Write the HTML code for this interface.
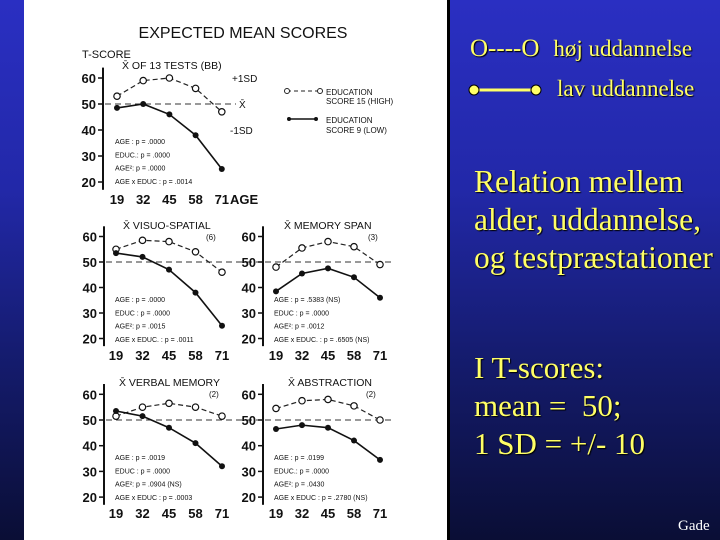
<!DOCTYPE html>
<html><head><meta charset="utf-8">
<style>
body{margin:0;width:720px;height:540px;overflow:hidden;background:linear-gradient(#2a2fc2 0%,#2228a8 35%,#151c70 65%,#0a0e35 100%);font-family:"Liberation Sans",sans-serif;position:relative}
#panel{position:absolute;left:24px;top:0;width:423px;height:540px;background:#fff;border-right:3px solid #000}
.y{position:absolute;color:#ffff66;font-family:"Liberation Serif",serif;text-shadow:1px 1px 1px #000;white-space:nowrap}
svg text{font-family:"Liberation Sans",sans-serif;fill:#111}
</style></head><body>
<div id="panel"></div>
<svg id="chart" width="720" height="540" style="position:absolute;left:0;top:0"></svg>
<div class="y" style="left:470px;top:35px;font-size:25px">O----O<span style="font-size:23px;margin-left:14px">høj uddannelse</span></div>
<svg style="position:absolute;left:466px;top:82px" width="80" height="16"><line x1="8" y1="8" x2="70" y2="8" stroke="#ffff66" stroke-width="3"/><circle cx="8" cy="8" r="5" fill="#ffff66" stroke="#000"/><circle cx="70" cy="8" r="5" fill="#ffff66" stroke="#000"/></svg>
<div class="y" style="left:557px;top:76px;font-size:23px">lav uddannelse</div>
<div class="y" style="left:474px;top:163px;font-size:31.5px;line-height:38px">Relation mellem<br>alder, uddannelse,<br>og testpræstationer</div>
<div class="y" style="left:474px;top:349px;font-size:31px;line-height:38px">I T-scores:<br>mean =&nbsp; 50;<br>1 SD = +/- 10</div>
<div style="position:absolute;left:678px;top:518px;color:#fff;font-family:'Liberation Serif',serif;font-size:15px">Gade</div>
<script>
const ages=["19","32","45","58","71"];
const yTicks=[60,50,40,30,20];
const mainHigh=[53,59,60,56,47];
const mainLow=[48.5,50,46,38,25];
const visHigh=[55,58.5,58,54,46];
const visLow=[53.5,52,47,38,25];
const memHigh=[48,55.5,58,56,49];
const memLow=[38.5,45.5,47.5,44,36];
const verHigh=[51.5,55,56.5,55,51.5];
const verLow=[53.5,51.5,47,41,32];
const absHigh=[54.5,57.5,58,55.5,50];
const absLow=[46.5,48,47,42,34.5];
const mainStats=["AGE : p = .0000","EDUC.: p = .0000","AGE²: p = .0000","AGE x EDUC : p = .0014"];
const visStats=["AGE : p = .0000","EDUC : p = .0000","AGE²: p = .0015","AGE x EDUC. : p = .0011"];
const memStats=["AGE : p = .5383 (NS)","EDUC : p = .0000","AGE²: p = .0012","AGE x EDUC. : p = .6505 (NS)"];
const verStats=["AGE : p = .0019","EDUC : p = .0000","AGE²: p = .0904 (NS)","AGE x EDUC : p = .0003"];
const absStats=["AGE : p = .0199","EDUC.: p = .0000","AGE²: p = .0430","AGE x EDUC : p = .2780 (NS)"];
const NS="http://www.w3.org/2000/svg";
const svg=document.getElementById('chart');
function mk(tag,attrs,parent){const e=document.createElementNS(NS,tag);for(const k in attrs)e.setAttribute(k,attrs[k]);(parent||svg).appendChild(e);return e;}
function txt(s,x,y,size,parent,anchor,weight){const t=mk('text',{x:x,y:y,'font-size':size,'text-anchor':anchor||'start','font-weight':weight||'normal'},parent);t.textContent=s;return t;}
function panel(name,o,high,low,stats){
  const g=mk('g',{});
  
  
  const yS=v=>o.y50-(v-50)*o.py;
  const xS=i=>o.x0+i*o.dx;
  const ax=mk('line',{x1:o.ax,y1:yS(64),x2:o.ax,y2:yS(17),stroke:'#111','stroke-width':2},g);
  
  
  yTicks.forEach(v=>{mk('line',{x1:o.ax-5,y1:yS(v),x2:o.ax,y2:yS(v),stroke:'#111','stroke-width':1.5},g);
    const t=txt(String(v),o.ax-7,yS(v)+5,13,g,'end','bold');
    
    });
  ages.forEach((a,i)=>{const t=txt(a,xS(i),o.xl,13,g,'middle','bold');
    
    });
  mk('line',{x1:o.ax+2,y1:yS(50),x2:o.refEnd,y2:yS(50),stroke:'#333','stroke-width':1,'stroke-dasharray':'6,4'},g);
  const ph=high.map((v,i)=>xS(i)+','+yS(v)).join(' ');
  const lh=mk('polyline',{points:ph,fill:'none',stroke:'#222','stroke-width':1.2,'stroke-dasharray':'5,3'},g);
  
  
  const pl=low.map((v,i)=>xS(i)+','+yS(v)).join(' ');
  const ll=mk('polyline',{points:pl,fill:'none',stroke:'#111','stroke-width':1.6},g);
  
  
  high.forEach((v,i)=>{const c=mk('circle',{cx:xS(i),cy:yS(v),r:3.2,fill:'#fff',stroke:'#111','stroke-width':1.2},g);
    
    });
  low.forEach((v,i)=>{const c=mk('circle',{cx:xS(i),cy:yS(v),r:3,fill:'#111'},g);
    
    });
  stats.forEach((s,i)=>{const t=txt(s,o.sx,o.sy+i*o.sdy,7,g);
    
    });
  const tt=txt(o.title,o.tx,o.ty,10.5,g,'start');
  
  
  if(o.n){const n=txt(o.n,o.nx,o.ty+11,8,g);}
  return {g,yS,xS};
}
const m=panel('main-panel',{ax:103,y50:104,py:2.6,x0:117,dx:26.2,xl:204,refEnd:236,sx:115,sy:144,sdy:13.3,title:'X̄ OF 13 TESTS (BB)',tx:122,ty:69},mainHigh,mainLow,mainStats);
const tm=txt('EXPECTED  MEAN  SCORES',243,38,16,svg,'middle');


const ts=txt('T-SCORE',82,58,11,svg);


const ag=txt('AGE',230,204,13,svg,'start','bold');


[['+1SD',232,82],['X̄',239,108],['-1SD',230,134]].forEach(a=>{const t=txt(a[0],a[1],a[2],10,svg);});
const lg=mk('g',{});


mk('line',{x1:287,y1:91,x2:320,y2:91,stroke:'#222','stroke-dasharray':'4,3'},lg);
mk('circle',{cx:287,cy:91,r:2.5,fill:'#fff',stroke:'#222'},lg);mk('circle',{cx:320,cy:91,r:2.5,fill:'#fff',stroke:'#222'},lg);
mk('line',{x1:289,y1:119,x2:316,y2:119,stroke:'#111','stroke-width':1.5},lg);
mk('circle',{cx:289,cy:119,r:2,fill:'#111'},lg);mk('circle',{cx:316,cy:119,r:2,fill:'#111'},lg);
txt('EDUCATION',326,95,8,lg);txt('SCORE 15 (HIGH)',326,104,8,lg);
txt('EDUCATION',326,123,8,lg);txt('SCORE 9 (LOW)',326,133,8,lg);
panel('visuo-spatial-panel',{ax:104,y50:262,py:2.55,x0:116,dx:26.5,xl:360,refEnd:258,sx:115,sy:302,sdy:13.3,title:'X̄ VISUO-SPATIAL',tx:123,ty:229,n:'(6)',nx:206},visHigh,visLow,visStats);
panel('memory-span-panel',{ax:263,y50:262,py:2.55,x0:276,dx:26,xl:360,refEnd:395,sx:274,sy:302,sdy:13.3,title:'X̄ MEMORY SPAN',tx:284,ty:229,n:'(3)',nx:368},memHigh,memLow,memStats);
panel('verbal-memory-panel',{ax:104,y50:420,py:2.57,x0:116,dx:26.5,xl:518,refEnd:258,sx:115,sy:460,sdy:13.3,title:'X̄ VERBAL MEMORY',tx:119,ty:386,n:'(2)',nx:209},verHigh,verLow,verStats);
panel('abstraction-panel',{ax:263,y50:420,py:2.57,x0:276,dx:26,xl:518,refEnd:392,sx:274,sy:460,sdy:13.3,title:'X̄ ABSTRACTION',tx:288,ty:386,n:'(2)',nx:366},absHigh,absLow,absStats);
</script>
</body></html>
